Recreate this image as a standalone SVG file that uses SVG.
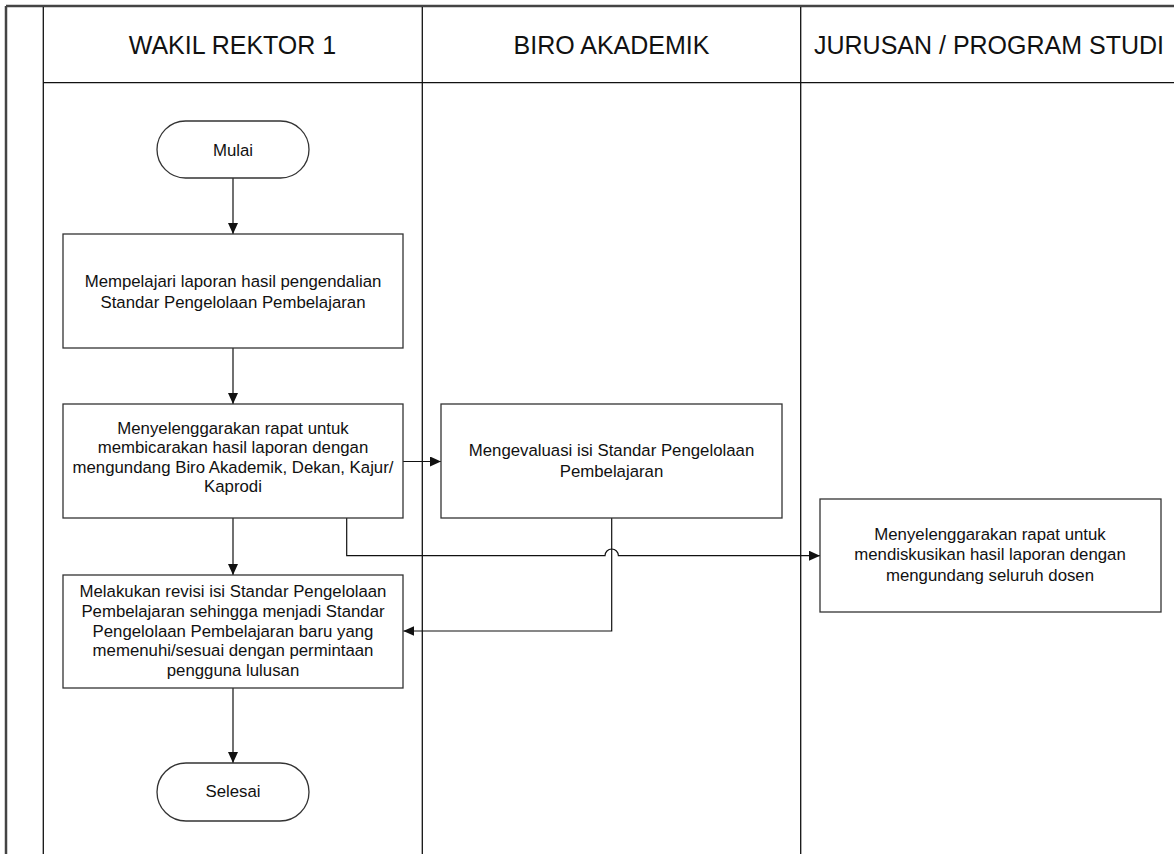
<svg xmlns="http://www.w3.org/2000/svg" width="1174" height="854" viewBox="0 0 1174 854">
<defs>
<style>
.frame{stroke:#444;stroke-width:2.5;fill:none}
.lane{stroke:#111;stroke-width:1.3;fill:none}
.node{fill:#fff;stroke:#333;stroke-width:1.3}
.conn{fill:none;stroke:#111;stroke-width:1.2}
.t{font-family:"Liberation Sans",Arial,sans-serif;font-size:16.8px;fill:#111;text-anchor:middle}
.h{font-family:"Liberation Sans",Arial,sans-serif;font-size:25px;fill:#111;text-anchor:middle}
</style>
<marker id="arr" markerUnits="userSpaceOnUse" markerWidth="11" markerHeight="10" refX="11" refY="5" orient="auto">
<path d="M0,0 L11,5 L0,10 z" fill="#111"/>
</marker>
</defs>
<rect width="1174" height="854" fill="#fff"/>
<g id="pool">
<line class="frame" x1="6" y1="6" x2="1174" y2="6"/>
<line class="frame" x1="6" y1="6" x2="6" y2="854"/>
<line class="lane" x1="43.3" y1="7" x2="43.3" y2="854"/>
<line class="lane" x1="422.3" y1="7" x2="422.3" y2="854"/>
<line class="lane" x1="800.7" y1="7" x2="800.7" y2="854"/>
<line class="lane" x1="43.3" y1="82.7" x2="1174" y2="82.7"/>
</g>
<g id="lane-wakil"><text class="h" x="232.5" y="54">WAKIL REKTOR 1</text></g>
<g id="lane-biro"><text class="h" x="611.5" y="54">BIRO AKADEMIK</text></g>
<g id="lane-jurusan"><text class="h" x="989" y="54">JURUSAN / PROGRAM STUDI</text></g>

<g id="connectors">
<line class="conn" x1="233" y1="178" x2="233" y2="234" marker-end="url(#arr)"/>
<line class="conn" x1="233" y1="348" x2="233" y2="404" marker-end="url(#arr)"/>
<line class="conn" x1="403" y1="461.5" x2="441" y2="461.5" marker-end="url(#arr)"/>
<line class="conn" x1="233" y1="518" x2="233" y2="575" marker-end="url(#arr)"/>
<path class="conn" d="M346.7,518 V555.7 H605 A6.7,6.7 0 0 1 618.4,555.7 H820" marker-end="url(#arr)"/>
<path class="conn" d="M611.7,518 V631 H403.3" marker-end="url(#arr)"/>
<line class="conn" x1="233" y1="688" x2="233" y2="763" marker-end="url(#arr)"/>
</g>

<g id="mulai">
<rect class="node" x="157" y="121" width="152" height="57" rx="28.5" ry="28.5"/>
<text class="t" x="233" y="155.7">Mulai</text>
</g>
<g id="mempelajari">
<rect class="node" x="63" y="234" width="340" height="114"/>
<text class="t" x="233" y="286.7">Mempelajari laporan hasil pengendalian</text>
<text class="t" x="233" y="307.7">Standar Pengelolaan Pembelajaran</text>
</g>
<g id="rapat-wr">
<rect class="node" x="63" y="404" width="340" height="114"/>
<text class="t" x="233" y="434.3">Menyelenggarakan rapat untuk</text>
<text class="t" x="233" y="453.4">membicarakan hasil laporan dengan</text>
<text class="t" x="233" y="472.5">mengundang Biro Akademik, Dekan, Kajur/</text>
<text class="t" x="233" y="491.6">Kaprodi</text>
</g>
<g id="evaluasi">
<rect class="node" x="441" y="404" width="341" height="114"/>
<text class="t" x="611.5" y="456">Mengevaluasi isi Standar Pengelolaan</text>
<text class="t" x="611.5" y="476.5">Pembelajaran</text>
</g>
<g id="rapat-jurusan">
<rect class="node" x="820" y="499" width="341" height="113"/>
<text class="t" x="990" y="540">Menyelenggarakan rapat untuk</text>
<text class="t" x="990" y="560.3">mendiskusikan hasil laporan dengan</text>
<text class="t" x="990" y="580.6">mengundang seluruh dosen</text>
</g>
<g id="revisi">
<rect class="node" x="63" y="575" width="340" height="113"/>
<text class="t" x="233" y="597.3">Melakukan revisi isi Standar Pengelolaan</text>
<text class="t" x="233" y="617">Pembelajaran sehingga menjadi Standar</text>
<text class="t" x="233" y="636.7">Pengelolaan Pembelajaran baru yang</text>
<text class="t" x="233" y="656.4">memenuhi/sesuai dengan permintaan</text>
<text class="t" x="233" y="676.1">pengguna lulusan</text>
</g>
<g id="selesai">
<rect class="node" x="157" y="763" width="152" height="58" rx="29" ry="29"/>
<text class="t" x="233" y="797.3">Selesai</text>
</g>
</svg>
